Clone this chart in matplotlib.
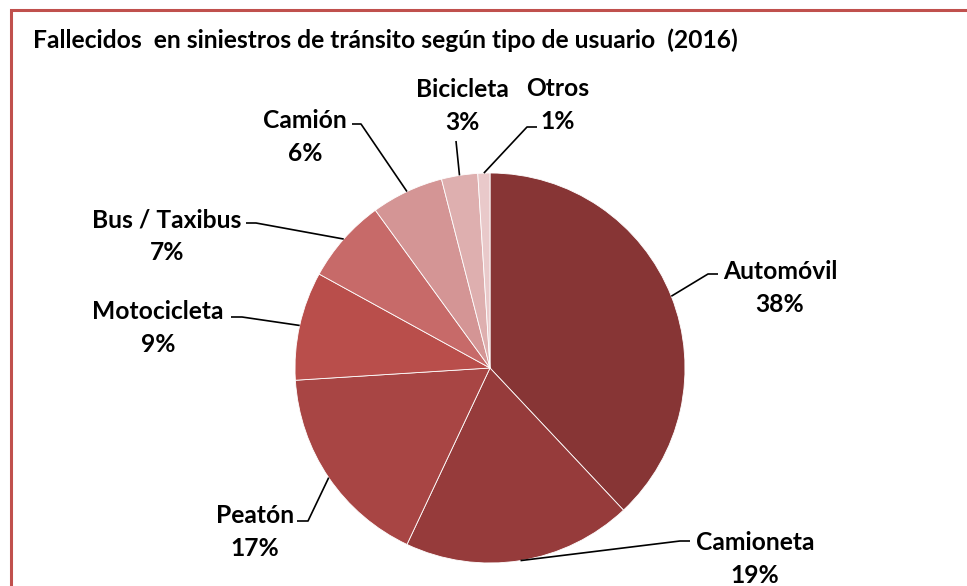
import matplotlib.pyplot as plt
from matplotlib.patches import Rectangle
import numpy as np

plt.rcParams['font.family'] = ['Lato', 'DejaVu Sans']

titulo = 'Fallecidos  en siniestros de tránsito según tipo de usuario  (2016)'
categorias = ['Automóvil', 'Camioneta', 'Peatón', 'Motocicleta',
              'Bus / Taxibus', 'Camión', 'Bicicleta', 'Otros']
porcentajes = [38, 19, 17, 9, 7, 6, 3, 1]
colores = ['#873535', '#963B3B', '#A84544', '#B94E4B',
           '#C76A69', '#D49595', '#DEAFAF', '#E9C9CA']

# tamaño en px, y hacia abajo para ubicar textos
W, H = 967, 586
centro = (490, H - 368)
radio = 195

# centro del texto de cada etiqueta y codo de la línea guía
pos_texto = [(780, 288), (755, 559), (255, 532), (158, 328),
             (167, 236), (305, 137), (462, 106), (558, 105)]
codos = [[(708, 274), (718, 274)], [(680, 541), (690, 541)],
         [(308, 521), (297, 521)], [(242, 317), (231, 317)],
         [(256, 223), (246, 223)], [(361, 124), (352, 124)],
         [(456, 141)], [(527, 127), (537, 127)]]

fig = plt.figure(figsize=(W / 100, H / 100), dpi=100)
ax = fig.add_axes([0, 0, 1, 1])

wedges, _ = ax.pie(porcentajes, colors=colores, startangle=90, counterclock=False,
                   center=centro, radius=radio,
                   wedgeprops=dict(edgecolor='white', linewidth=0.6))
ax.set_xlim(0, W)
ax.set_ylim(0, H)
ax.axis('off')

for w, cat, p, (tx, ty), codo in zip(wedges, categorias, porcentajes, pos_texto, codos):
    ang = np.deg2rad((w.theta1 + w.theta2) / 2)
    xs = [centro[0] + radio * np.cos(ang)] + [c[0] for c in codo]
    ys = [centro[1] + radio * np.sin(ang)] + [H - c[1] for c in codo]
    ax.plot(xs, ys, color='black', lw=1.2, solid_capstyle='butt')
    ax.text(tx, H - ty, f'{cat}\n{p}%', ha='center', va='center',
            fontsize=17.7, fontweight='bold', linespacing=1.5)

# marco del gráfico
ax.add_patch(Rectangle((10.5, -50), 1000, H - 9.5 + 50, fill=False,
                       edgecolor='#C0504D', lw=2.2, clip_on=False))

fig.text(33 / W, 1 - 40 / H, titulo, ha='left', va='center',
         fontsize=17.7, fontweight='bold')

fig.savefig('out.png', dpi=100)
